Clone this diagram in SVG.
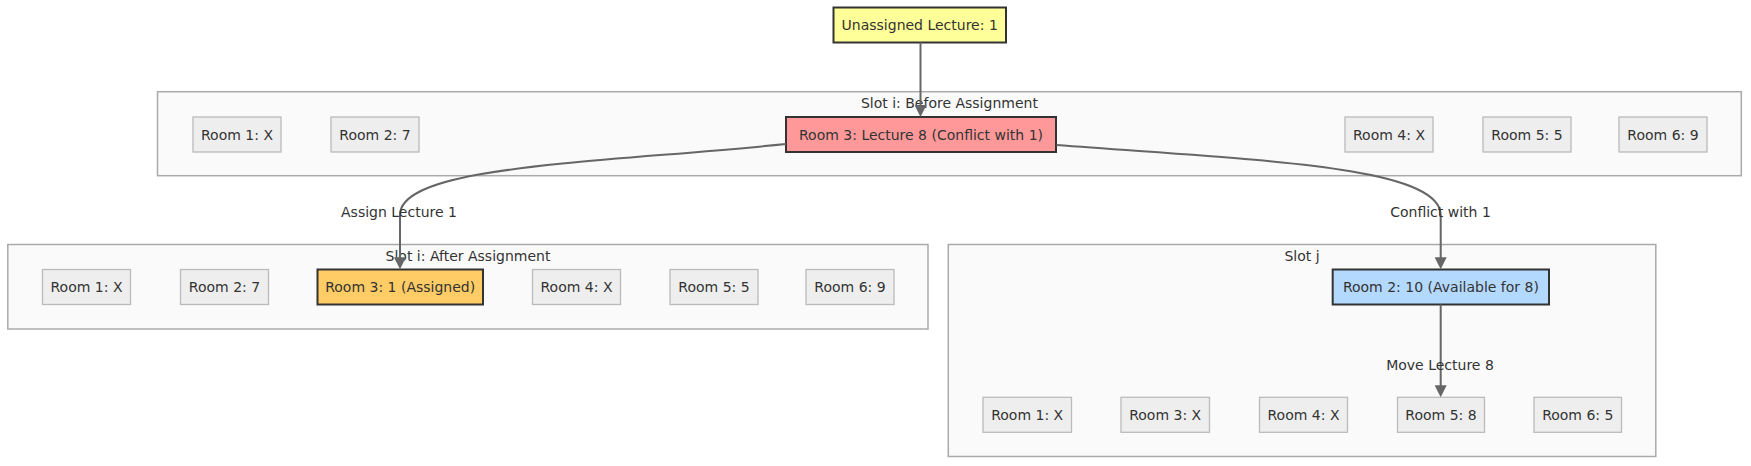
<svg xmlns="http://www.w3.org/2000/svg" width="1751" height="466" viewBox="0 0 1751 466">
<defs>
<style>
text{font-family:"DejaVu Sans","Liberation Sans",sans-serif;font-size:14px;fill:#333;text-anchor:middle;dominant-baseline:central}
.cluster{fill:#fafafa;stroke:#aaa;stroke-width:1.5}
.g{fill:#eeeeee;stroke:#bbbbbb;stroke-width:1.3}
.hl{stroke:#333;stroke-width:2}
.edge{fill:none;stroke:#666;stroke-width:2}
</style>
<marker id="arr" viewBox="0 0 12 12" refX="8" refY="6" markerWidth="12" markerHeight="12" markerUnits="userSpaceOnUse" orient="auto">
<path d="M0,0 L12,6 L0,12 z" fill="#666"/>
</marker>
</defs>
<rect width="1751" height="466" fill="#ffffff"/>

<g id="cluster-before">
<rect class="cluster" x="157.5" y="91.7" width="1583.8" height="84"/>
<text x="949.4" y="102.5">Slot i: Before Assignment</text>
</g>
<g id="cluster-after">
<rect class="cluster" x="7.8" y="244.5" width="920.2" height="84.5"/>
<text x="468" y="255.5">Slot i: After Assignment</text>
</g>
<g id="cluster-slotj">
<rect class="cluster" x="948.3" y="244.5" width="707.5" height="212"/>
<text x="1302" y="255.5">Slot j</text>
</g>

<g id="unassigned">
<rect class="hl" x="833.5" y="7.5" width="172.5" height="35" fill="#ffff99"/>
<text x="919.7" y="25">Unassigned Lecture: 1</text>
</g>

<g id="b-room1"><rect class="g" x="193" y="117" width="88" height="35"/><text x="237" y="134.5">Room 1: X</text></g>
<g id="b-room2"><rect class="g" x="331" y="117" width="88" height="35"/><text x="375" y="134.5">Room 2: 7</text></g>
<g id="b-room3"><rect class="hl" x="786" y="117" width="270" height="35" fill="#ff9999"/><text x="921" y="134.5">Room 3: Lecture 8 (Conflict with 1)</text></g>
<g id="b-room4"><rect class="g" x="1345" y="117" width="88" height="35"/><text x="1389" y="134.5">Room 4: X</text></g>
<g id="b-room5"><rect class="g" x="1483" y="117" width="88" height="35"/><text x="1527" y="134.5">Room 5: 5</text></g>
<g id="b-room6"><rect class="g" x="1619" y="117" width="88" height="35"/><text x="1663" y="134.5">Room 6: 9</text></g>

<g id="a-room1"><rect class="g" x="42.5" y="269.5" width="88" height="35"/><text x="86.5" y="287">Room 1: X</text></g>
<g id="a-room2"><rect class="g" x="180.5" y="269.5" width="88" height="35"/><text x="224.5" y="287">Room 2: 7</text></g>
<g id="a-room3"><rect class="hl" x="317.5" y="269.5" width="165.5" height="35" fill="#ffcc66"/><text x="400.2" y="287">Room 3: 1 (Assigned)</text></g>
<g id="a-room4"><rect class="g" x="532.5" y="269.5" width="88" height="35"/><text x="576.5" y="287">Room 4: X</text></g>
<g id="a-room5"><rect class="g" x="670" y="269.5" width="88" height="35"/><text x="714" y="287">Room 5: 5</text></g>
<g id="a-room6"><rect class="g" x="806" y="269.5" width="88" height="35"/><text x="850" y="287">Room 6: 9</text></g>

<g id="j-room2"><rect class="hl" x="1332.7" y="269.5" width="216.3" height="35" fill="#b3d9ff"/><text x="1440.9" y="287">Room 2: 10 (Available for 8)</text></g>
<g id="j-room1"><rect class="g" x="983" y="397.3" width="88.5" height="35"/><text x="1027.2" y="414.8">Room 1: X</text></g>
<g id="j-room3"><rect class="g" x="1121" y="397.3" width="88.5" height="35"/><text x="1165.2" y="414.8">Room 3: X</text></g>
<g id="j-room4"><rect class="g" x="1259.5" y="397.3" width="88" height="35"/><text x="1303.5" y="414.8">Room 4: X</text></g>
<g id="j-room5"><rect class="g" x="1397.5" y="397.3" width="87" height="35"/><text x="1441" y="414.8">Room 5: 8</text></g>
<g id="j-room6"><rect class="g" x="1534" y="397.3" width="87.5" height="35"/><text x="1577.8" y="414.8">Room 6: 5</text></g>

<g id="connectors">
<path class="edge" d="M920.5,42.5 L920.5,113" marker-end="url(#arr)"/>
<path class="edge" d="M786,144 C 600,163 400,165 400,215 L400,265.3" marker-end="url(#arr)"/>
<path class="edge" d="M1056.5,145 C 1250,160 1440.7,165 1440.7,215 L1440.7,265.3" marker-end="url(#arr)"/>
<path class="edge" d="M1440.7,304.5 L1440.7,393.3" marker-end="url(#arr)"/>
<text x="399" y="211.5">Assign Lecture 1</text>
<text x="1440.5" y="211.5">Conflict with 1</text>
<text x="1440" y="365">Move Lecture 8</text>
</g>
</svg>
